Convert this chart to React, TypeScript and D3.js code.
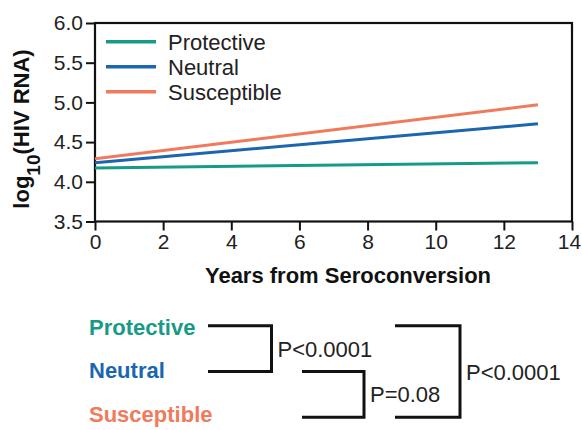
import React from 'react';
import * as d3 from 'd3';

const years = [0, 13];
const protective = [4.175, 4.24];
const neutral = [4.24, 4.73];
const susceptible = [4.29, 4.97];
const xTicks = [0, 2, 4, 6, 8, 10, 12, 14];
const yTicks = [3.5, 4.0, 4.5, 5.0, 5.5, 6.0];

const groups = ['Protective', 'Neutral', 'Susceptible'];
const comparisons = [
  { a: 'Protective', b: 'Neutral', p: 'P<0.0001' },
  { a: 'Neutral', b: 'Susceptible', p: 'P=0.08' },
  { a: 'Protective', b: 'Susceptible', p: 'P<0.0001' },
];

const colors: Record<string, string> = {
  Protective: '#179a86',
  Neutral: '#1a66b0',
  Susceptible: '#f07a5c',
};

const FONT = '"Liberation Sans", Arial, sans-serif';

const App = () => {
  const Width = 582;
  const Height = 430;
  const left = 95;
  const right = 572;
  const top = 23;
  const bottom = 221.5;

  const xScale = d3.scaleLinear().domain([0, 14]).range([left, right]);
  const yScale = d3.scaleLinear().domain([3.5, 6]).range([bottom, top]);

  const series = [
    { name: 'Protective', values: protective },
    { name: 'Neutral', values: neutral },
    { name: 'Susceptible', values: susceptible },
  ];

  const line = d3
    .line<number>()
    .x((d, i) => xScale(years[i]))
    .y((d) => yScale(d));

  // rows for the comparison brackets below the chart
  const rowScale = d3.scalePoint().domain(groups).range([325.7, 417.3]);
  const bracketX = [
    { x0: 208, x1: 271.5 },
    { x0: 302, x1: 364 },
    { x0: 395, x1: 460 },
  ];

  const xAxis = d3.axisBottom(xScale).tickValues(xTicks).tickSize(9).tickPadding(4).tickFormat(d3.format('d'));
  const yAxis = d3.axisLeft(yScale).tickValues(yTicks).tickSize(9).tickPadding(3).tickFormat(d3.format('.1f'));

  const styleAxis = (node: SVGGElement | null, axis: any) => {
    if (!node) return;
    const g = d3.select(node);
    g.call(axis);
    g.select('.domain').remove();
    g.selectAll('.tick line').attr('stroke', '#111').attr('stroke-width', 2);
    g.selectAll('.tick text')
      .attr('fill', '#222')
      .style('font-size', '21px')
      .style('font-family', FONT);
    // last x label sits a bit to the left so it stays inside
    g.selectAll('.tick text').filter((d: any) => d === 14).attr('dx', -3);
  };

  return (
    <svg width={Width} height={Height} style={{ position: 'absolute', left: 0, top: 0, background: '#fff' }}>
      <rect x={0} y={0} width={Width} height={Height} fill="#fff" />

      {/* frame */}
      <rect x={left} y={top} width={right - left} height={bottom - top} fill="none" stroke="#111" strokeWidth={2.2} />

      <g transform={`translate(0, ${bottom})`} ref={(node) => styleAxis(node, xAxis)} />
      <g transform={`translate(${left}, 0)`} ref={(node) => styleAxis(node, yAxis)} />

      {series.map((s) => (
        <path key={s.name} d={line(s.values) || ''} fill="none" stroke={colors[s.name]} strokeWidth={3} />
      ))}

      {/* legend */}
      {groups.map((g, i) => (
        <g key={g} transform={`translate(106, ${41.7 + i * 25})`}>
          <line x1={0} x2={50} y1={0} y2={0} stroke={colors[g]} strokeWidth={3.5} />
          <text x={62} y={8} style={{ fontSize: '22px', fontFamily: FONT }} fill="#222">
            {g}
          </text>
        </g>
      ))}

      <text
        x={348}
        y={283}
        textAnchor="middle"
        style={{ fontSize: '22px', fontWeight: 'bold', fontFamily: FONT }}
        fill="#111"
      >
        Years from Seroconversion
      </text>

      <text
        transform={`translate(29, 129) rotate(-90)`}
        textAnchor="middle"
        style={{ fontSize: '22px', fontWeight: 'bold', fontFamily: FONT }}
        fill="#111"
      >
        log
        <tspan baselineShift="sub" style={{ fontSize: '19px' }}>10</tspan>
        <tspan>(HIV RNA)</tspan>
      </text>

      {/* group labels */}
      {groups.map((g, i) => (
        <text
          key={g}
          x={89}
          y={(rowScale(g) || 0) + [9, 6.5, 4.5][i]}
          style={{ fontSize: '22px', fontWeight: 'bold', fontFamily: FONT }}
          fill={colors[g]}
        >
          {g}
        </text>
      ))}

      {/* brackets */}
      {comparisons.map((c, i) => {
        const ya = rowScale(c.a) || 0;
        const yb = rowScale(c.b) || 0;
        const { x0, x1 } = bracketX[i];
        return (
          <g key={i}>
            <path
              d={`M${x0},${ya}H${x1}V${yb}H${x0}`}
              fill="none"
              stroke="#111"
              strokeWidth={3}
            />
            <text
              x={x1 + 6}
              y={(ya + yb) / 2 + 8}
              style={{ fontSize: '22px', fontFamily: FONT }}
              fill="#222"
            >
              {c.p}
            </text>
          </g>
        );
      })}
    </svg>
  );
};

export default App;
